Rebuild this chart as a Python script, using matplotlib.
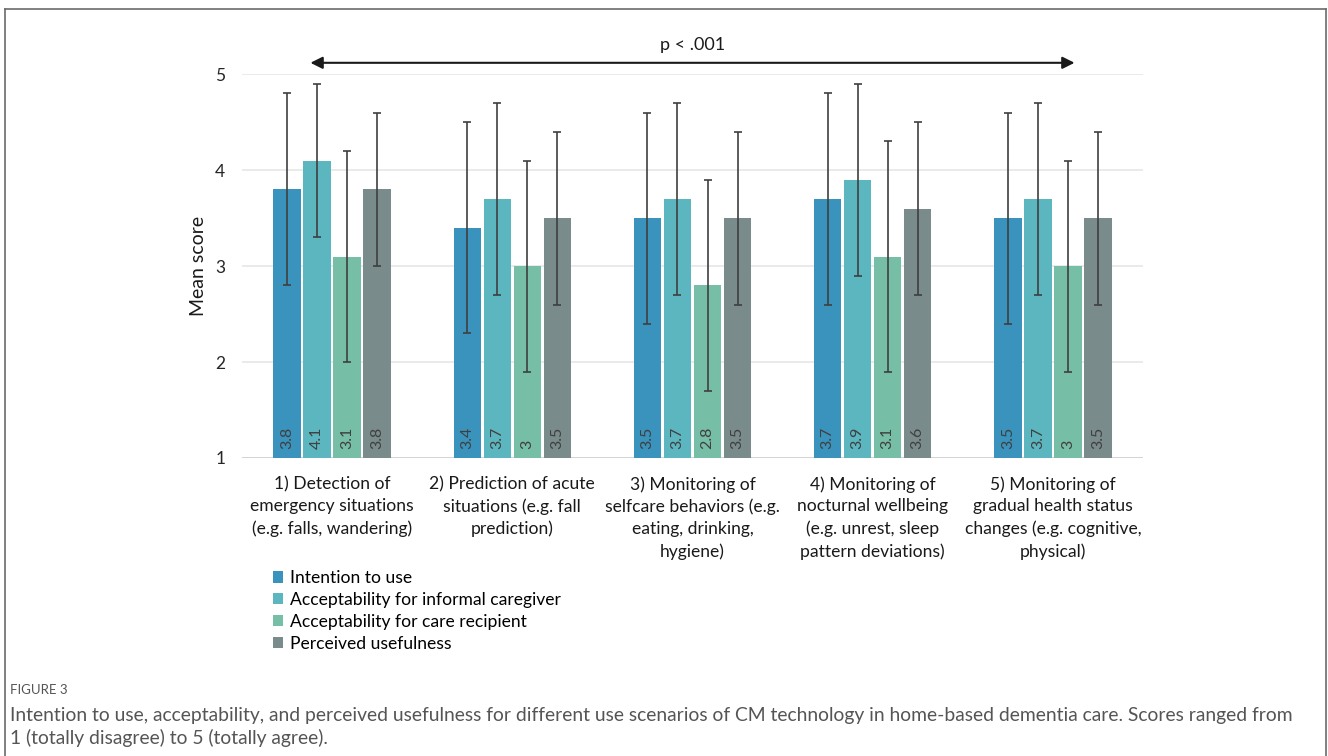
import numpy as np
import matplotlib
matplotlib.use("Agg")
import matplotlib.pyplot as plt
from matplotlib.lines import Line2D
from matplotlib.patches import Patch

plt.rcParams["font.family"] = ["Lato", "DejaVu Sans"]

scenarios = [
    "1) Detection of\nemergency situations\n(e.g. falls, wandering)",
    "2) Prediction of acute\nsituations (e.g. fall\nprediction)",
    "3) Monitoring of\nselfcare behaviors (e.g.\neating, drinking,\nhygiene)",
    "4) Monitoring of\nnocturnal wellbeing\n(e.g. unrest, sleep\npattern deviations)",
    "5) Monitoring of\ngradual health status\nchanges (e.g. cognitive,\nphysical)",
]
series = [
    "Intention to use",
    "Acceptability for informal caregiver",
    "Acceptability for care recipient",
    "Perceived usefulness",
]
intention = [3.8, 3.4, 3.5, 3.7, 3.5]
informal = [4.1, 3.7, 3.7, 3.9, 3.7]
recipient = [3.1, 3.0, 2.8, 3.1, 3.0]
usefulness = [3.8, 3.5, 3.5, 3.6, 3.5]

# standard deviations (whisker half-lengths)
intention_sd = [1.0, 1.1, 1.1, 1.1, 1.1]
informal_sd = [0.8, 1.0, 1.0, 1.0, 1.0]
recipient_sd = [1.1, 1.1, 1.1, 1.2, 1.1]
usefulness_sd = [0.8, 0.9, 0.9, 0.9, 0.9]

colors = ["#3A93BC", "#5BB6C0", "#76BEA6", "#7A8B8B"]

means = [intention, informal, recipient, usefulness]
sds = [intention_sd, informal_sd, recipient_sd, usefulness_sd]

fig = plt.figure(figsize=(13.28, 7.56), dpi=100)
ax = fig.add_axes([0.1822, 0.3942, 0.6785, 0.5075])

x = np.arange(len(scenarios))
step = 0.1667
width = 0.152

for k in range(4):
    pos = x + (k - 1.5) * step
    ax.bar(pos, np.array(means[k]) - 1, width, bottom=1, color=colors[k],
           label=series[k], zorder=2)
    ax.errorbar(pos, means[k], yerr=sds[k], fmt="none", ecolor="#3f3f3f",
                elinewidth=1.2, capsize=3.2, capthick=1.2, zorder=3)
    for p, v in zip(pos, means[k]):
        ax.text(p, 1.09, f"{v:g}", rotation=90, ha="center", va="bottom",
                fontsize=11.5, color="#404040", zorder=4)

ax.set_xlim(-0.5, 4.5)
ax.set_ylim(1, 5)
ax.set_yticks([1, 2, 3, 4, 5])
ax.set_yticklabels(["1", "2", "3", "4", "5"], fontsize=12.5, color="#262626")
ax.set_xticks(x)
ax.set_xticklabels(scenarios, fontsize=12.6, color="#1a1a1a", linespacing=1.45,
                   va="top")
ax.tick_params(length=0, pad=12)
ax.tick_params(axis="x", pad=13)
for s in ax.spines.values():
    s.set_visible(False)
ax.yaxis.grid(True, color="#E6E6E6", linewidth=1.2, zorder=0)
ax.set_axisbelow(True)
ax.axhline(1, color="#D4D4D4", linewidth=1.4, zorder=1)
ax.set_ylabel("Mean score", fontsize=14, color="#1a1a1a", labelpad=6)

# significance arrow across scenarios
ax.annotate("", xy=(-0.12, 5.12), xytext=(4.12, 5.12),
            arrowprops=dict(arrowstyle="<|-|>", color="#1a1a1a", lw=1.5,
                            mutation_scale=18, shrinkA=0, shrinkB=0),
            annotation_clip=False)
ax.text(2.0, 5.31, "p < .001", ha="center", va="center", fontsize=13,
        color="#1a1a1a", clip_on=False)

handles = [Patch(facecolor=c, label=s) for c, s in zip(colors, series)]
fig.legend(handles=handles, loc="upper left", bbox_to_anchor=(0.200, 0.255),
           frameon=False, fontsize=12.6, handlelength=0.6, handleheight=0.6,
           handletextpad=0.4, labelspacing=0.33, borderaxespad=0)

# caption below the chart
fig.text(0.0075, 0.087, "FIGURE 3", fontsize=9.5, color="#555555", va="center")
fig.text(0.0075, 0.054,
         "Intention to use, acceptability, and perceived usefulness for different "
         "use scenarios of CM technology in home-based dementia care. Scores ranged from",
         fontsize=13.9, color="#555555", va="center")
fig.text(0.0075, 0.024, "1 (totally disagree) to 5 (totally agree).",
         fontsize=13.9, color="#555555", va="center")

# frame around the figure panel
frame_kw = dict(color="#6b6b6b", linewidth=1.2, transform=fig.transFigure)
fig.add_artist(Line2D([0.0035, 0.9985], [0.988, 0.988], **frame_kw))
fig.add_artist(Line2D([0.0035, 0.0035], [0.0, 0.988], **frame_kw))
fig.add_artist(Line2D([0.9985, 0.9985], [0.0, 0.988], **frame_kw))

fig.savefig("out.png", dpi=100)
